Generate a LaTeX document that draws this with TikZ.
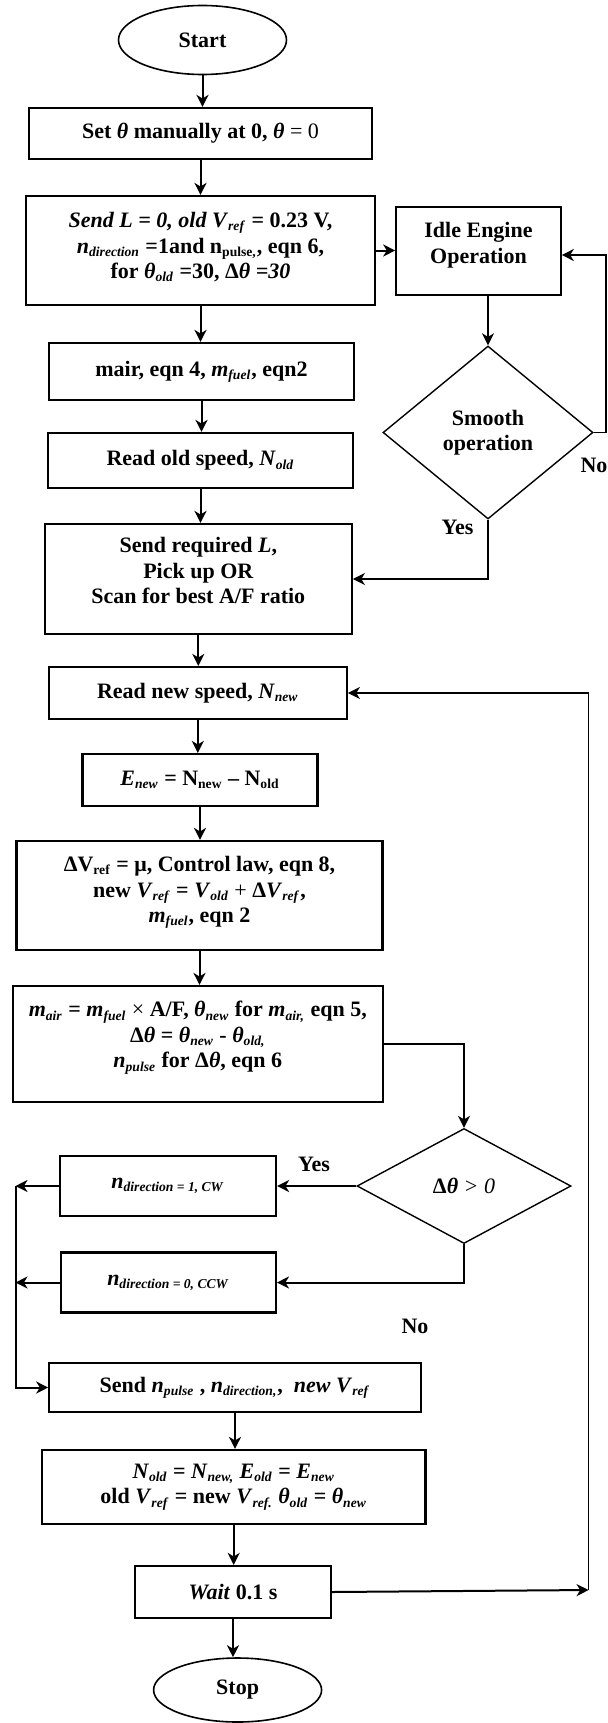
\documentclass[tikz,border=0pt]{standalone}
\usepackage{fontspec}
\setmainfont{Liberation Serif}
\usetikzlibrary{shapes.geometric,arrows.meta}

\newcommand{\isub}[1]{\textsubscript{\fontsize{6.8}{8}\selectfont\textit{#1}}}
\newcommand{\usub}[1]{\textsubscript{\fontsize{6.8}{8}\selectfont #1}}
\newcommand{\thet}{\textit{θ}}

\begin{document}
\begin{tikzpicture}[x=0.5pt,y=-0.5pt,
  every node/.style={font=\bfseries\fontsize{11}{12.75}\selectfont},
  proc/.style 2 args={draw,line width=1.1pt,minimum width=#1,minimum height=#2,align=center,inner sep=1pt},
  thinbox/.style 2 args={proc={#1}{#2},line width=0.8pt},
  term/.style={draw,ellipse,line width=0.8pt,minimum width=84pt,inner sep=0pt},
  decide/.style 2 args={draw,diamond,line width=0.7pt,minimum width=#1,minimum height=#2,inner sep=0pt,align=center},
  flow/.style={line width=1pt,-{Stealth[length=6pt,width=6pt,inset=1.8pt]}},
  wire/.style={line width=0.8pt}]

\useasboundingbox (0,0) rectangle (608,1723);

% main column
\node[term,minimum height=34.5pt] (start) at (202.5,40) {Start};
\node[proc={171.5pt}{25.5pt}] (set) at (200.5,133.5) {Set \thet\ manually at 0, \thet\ \textmd{= 0}};
\node[proc={174.5pt}{54.5pt},text depth=5pt] (init) at (200.5,250.5)
  {\textit{Send L = 0, old V}\isub{ref} = 0.23 V,\\
   \textit{n}\isub{direction} =1and n\usub{pulse,}, eqn 6,\\
   for \thet\isub{old} =30, Δ\thet\ \textit{=30}};
\node[proc={152.5pt}{28.5pt}] (mair) at (201.5,371.5) {mair, eqn 4, \textit{m}\isub{fuel}, eqn2};
\node[proc={152.5pt}{27.5pt}] (readold) at (200.5,460.5) {Read old speed, \textit{N}\isub{old}};
\node[proc={153.5pt}{55pt},text depth=8.5pt] (sendreq) at (198.3,579)
  {Send required \textit{L},\\Pick up OR\\Scan for best A/F ratio};

% idle loop
\node[thinbox={82.5pt}{44pt},text depth=8pt] (idle) at (478.5,251) {Idle Engine\\Operation};
\node[decide={105pt}{86.5pt}] (smooth) at (488,432.5) {Smooth\\operation};
\node (yes1) at (457.5,527) {Yes};
\node (no1) at (594,465) {No};

% control loop
\node[proc={149pt}{26pt}] (readnew) at (197.8,693) {Read new speed, \textit{N}\isub{new}};
\node[proc={117.5pt}{26pt}] (error) at (200,780) {\textit{E}\isub{new} = N\usub{new} – N\usub{old}};
\node[proc={183pt}{54.5pt},text depth=6pt] (control) at (199.5,895.5)
  {ΔV\usub{ref} = μ, Control law, eqn 8,\\
   new \textit{V}\isub{ref} = \textit{V}\isub{old} \textmd{+} Δ\textit{V}\isub{ref},\\
   \textit{m}\isub{fuel}, eqn 2};
\node[proc={185pt}{58pt},text depth=9.5pt] (angle) at (197.8,1044)
  {\textit{m}\isub{air} = \textit{m}\isub{fuel} \textmd{×} A/F, \thet\isub{new} for \textit{m}\isub{air,} eqn 5,\\
   Δ\thet\ = \thet\isub{new} - \thet\isub{old,}\\
   \textit{n}\isub{pulse} for Δ\thet, eqn 6};
\node[decide={107pt}{57.5pt}] (check) at (464,1186) {Δ\thet\ \textmd{\textit{> 0}}};
\node[proc={108pt}{30pt}] (cw) at (168,1186) {\textit{n}\isub{direction = 1, CW}};
\node[proc={107.5pt}{30pt}] (ccw) at (168.4,1282.5) {\textit{n}\isub{direction = 0, CCW}};
\node (yes2) at (314,1164) {Yes};
\node (no2) at (415,1326) {No};
\node[proc={185.7pt}{24.5pt}] (sendpulse) at (235,1387.5)
  {Send \textit{n}\isub{pulse} , \textit{n}\isub{direction,}, \ \textit{new V}\isub{ref}};
\node[proc={191.7pt}{37pt}] (update) at (233.7,1487)
  {\textit{N}\isub{old} = \textit{N}\isub{new,} \textit{E}\isub{old} = \textit{E}\isub{new}\\
   old \textit{V}\isub{ref} = new \textit{V}\isub{ref.} \thet\isub{old} = \thet\isub{new}};
\node[proc={98pt}{26pt}] (wait) at (233,1592) {\textit{Wait} 0.1 s};
\node[term,minimum height=32pt] (stop) at (237.6,1690) {Stop};

\coordinate (idlein) at (606,255);
\coordinate (busl) at (15.5,1186);
\coordinate (busr) at (588.6,1590);

% arrows
\foreach \src/\dst in {start/set,set/init,init/mair,mair/readold,readold/sendreq,
  sendreq/readnew,readnew/error,error/control,control/angle,
  sendpulse/update,update/wait,wait/stop}
  \draw[flow] (\src.south) -- (\src.south |- \dst.north);

\draw[flow] (init.east) -- (init.east -| idle.west);
\draw[flow] (smooth.north |- idle.south) -- (smooth.north);
\draw[flow,wire] (smooth.east) -| (idlein) -- (idle.east |- idlein);
\draw[flow,wire] (smooth.south) |- (sendreq.east);

\draw[flow,wire] (angle.east) -| (check.north);
\draw[flow] (check.west) -- (cw.east);
\draw[flow] (check.south) |- (ccw.east);
\draw[flow] (cw.west) -- (busl);
\draw[flow] (ccw.west) -- (ccw.west -| busl);
\draw[flow] (busl) |- (sendpulse.west);
\draw[flow] (wait.east) -- (busr);
\draw[flow,wire] (busr) |- (readnew.east);

\end{tikzpicture}
\end{document}
